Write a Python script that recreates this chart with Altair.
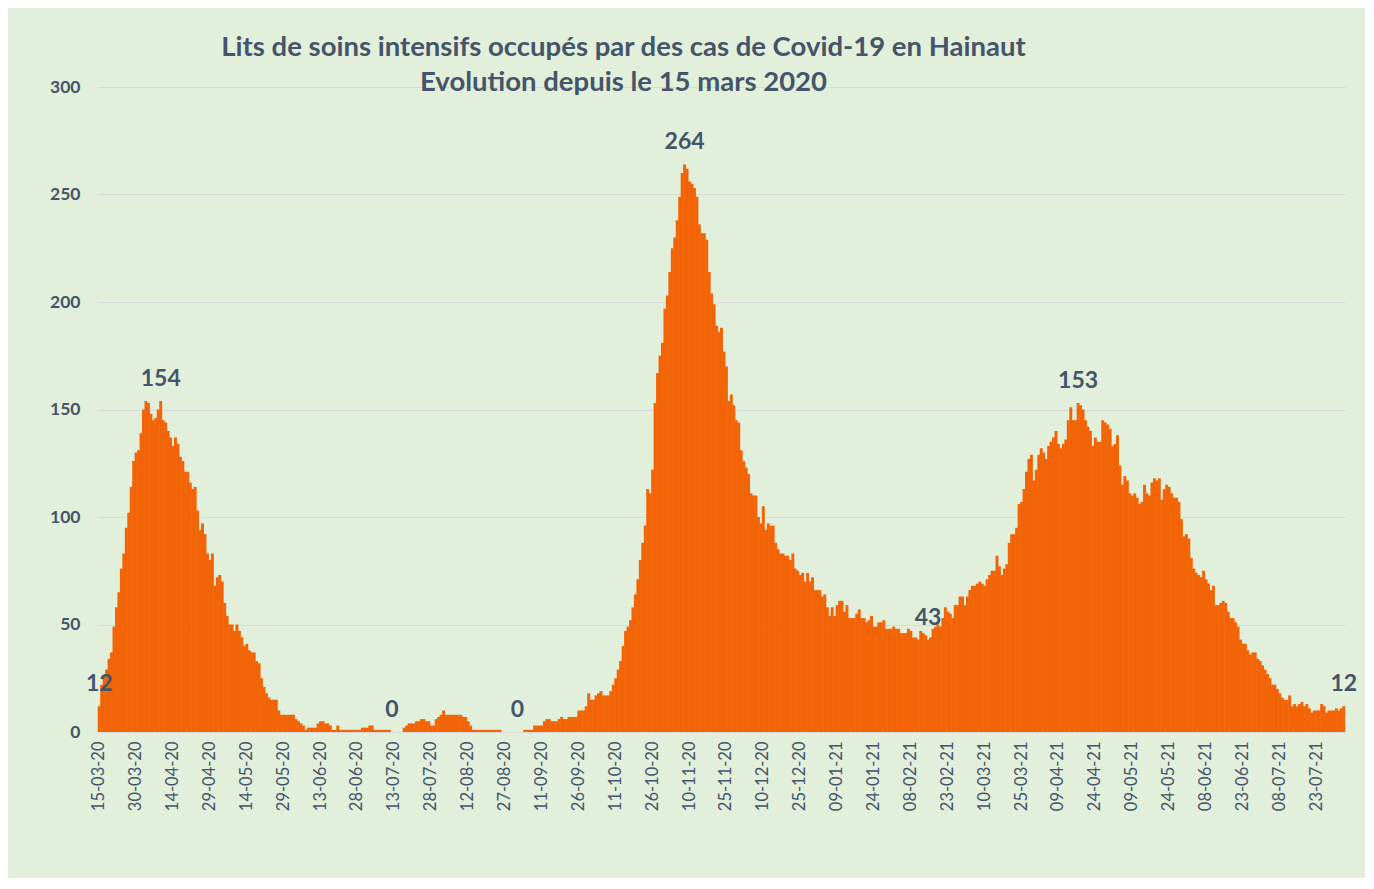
import altair as alt
import pandas as pd

START = "2020-03-15"

# Daily ICU occupancy (15-03-20 .. 03-08-21)
WAVE1 = [12, 22, 26, 29, 34, 37, 49, 58, 65, 76,
         83, 95, 102, 114, 126, 130, 131, 139, 150, 154,
         153, 148, 145, 146, 150, 154, 145, 144, 140, 137,
         133, 137, 134, 128, 126, 121, 121, 116, 113, 114,
         103, 94, 97, 92, 83, 80, 83, 68, 72, 73,
         70, 60, 54, 50, 50, 47, 50, 47, 44, 40,
         41, 38, 37, 37, 33, 32, 25, 21, 18, 16,
         15, 15, 15, 10, 8, 8, 8, 8, 8, 8]
SUMMER = [6, 5, 4, 3, 1, 2, 2, 2, 2, 4,
          5, 5, 4, 4, 3, 1, 1, 3, 1, 1,
          1, 1, 1, 1, 1, 1, 1, 2, 2, 2,
          3, 3, 1, 1, 1, 1, 1, 1, 1, 0,
          0, 0, 0, 0, 2, 3, 4, 4, 4, 5,
          5, 6, 6, 5, 5, 3, 3, 6, 7, 8,
          10, 8, 8, 8, 8, 8, 8, 8, 7, 7,
          5, 3, 1, 1, 1, 1, 1, 1, 1, 1,
          1, 1, 1, 1, 0, 0, 0, 0, 0, 0,
          0, 0, 0, 1, 1, 1, 1, 3, 3, 3,
          3, 5, 6, 6, 5, 5, 5, 6, 7, 6,
          6, 7, 7, 7, 7, 10, 10, 10, 12, 18]
WAVE2 = [15, 15, 17, 18, 19, 17, 17, 17, 19, 22,
         25, 29, 33, 40, 47, 49, 52, 58, 64, 71,
         80, 88, 96, 113, 111, 122, 153, 167, 175, 181,
         197, 203, 214, 225, 230, 238, 249, 260, 264, 262,
         256, 255, 253, 249, 236, 232, 232, 229, 214, 204,
         199, 189, 186, 188, 177, 170, 154, 157, 152, 145,
         144, 131, 126, 123, 120, 111, 110, 110, 100, 97,
         105, 94, 97, 96, 96, 88, 85, 83, 83, 82,
         82, 80, 83, 76, 75, 73, 74, 70, 74, 70,
         72, 66, 66, 66, 63, 64, 58, 54, 58, 54]
WINTER = [59, 61, 61, 56, 59, 53, 53, 53, 55, 57,
          53, 53, 51, 52, 54, 49, 49, 51, 51, 52,
          48, 48, 48, 49, 48, 48, 46, 46, 46, 48,
          47, 44, 44, 43, 47, 46, 45, 43, 44, 48,
          49, 50, 49, 53, 58, 56, 55, 53, 59, 59,
          63, 63, 59, 63, 66, 68, 68, 69, 70, 69]
WAVE3 = [68, 71, 73, 75, 75, 82, 77, 73, 76, 78,
         88, 92, 92, 95, 106, 107, 113, 121, 127, 129,
         117, 122, 129, 132, 130, 127, 133, 135, 137, 140,
         134, 132, 134, 136, 145, 151, 145, 145, 153, 152,
         150, 145, 142, 140, 133, 137, 135, 135, 145, 144,
         143, 141, 133, 134, 138, 124, 115, 119, 117, 111,
         110, 111, 109, 106, 107, 115, 111, 110, 116, 118,
         117, 118, 108, 113, 115, 114, 111, 109, 109, 107,
         99, 91, 92, 90, 81, 76, 74, 73, 72, 75,
         71, 69, 66, 68, 59, 59, 60, 61, 60, 56,
         53, 53, 51, 49, 43, 41, 41, 38, 36, 37,
         37, 34, 33, 31, 29, 27, 25, 22, 22, 20,
         18, 16, 15, 15, 17, 12, 13, 12, 13, 14,
         12, 13, 11, 9, 10, 10, 10, 13, 12, 9,
         10, 10, 10, 11, 10, 11, 12]

VALUES = WAVE1 + SUMMER + WAVE2 + WINTER + WAVE3

TICK_LABELS = ["15-03-20", "30-03-20", "14-04-20", "29-04-20", "14-05-20", "29-05-20",
               "13-06-20", "28-06-20", "13-07-20", "28-07-20", "12-08-20", "27-08-20",
               "11-09-20", "26-09-20", "11-10-20", "26-10-20", "10-11-20", "25-11-20",
               "10-12-20", "25-12-20", "09-01-21", "24-01-21", "08-02-21", "23-02-21",
               "10-03-21", "25-03-21", "09-04-21", "24-04-21", "09-05-21", "24-05-21",
               "08-06-21", "23-06-21", "08-07-21", "23-07-21"]
Y_TICKS = [0, 50, 100, 150, 200, 250, 300]
LABEL_DATES = ["15-03-20", "09-04-20", "12-07-20", "01-09-20", "08-11-20",
               "15-02-21", "17-04-21", "03-08-21"]

TITLE = ["Lits de soins intensifs occupés par des cas de Covid-19 en Hainaut",
         "Evolution depuis le 15 mars 2020"]

dates = pd.date_range(START, periods=len(VALUES), freq="D").strftime("%d-%m-%y").tolist()
df = pd.DataFrame({"date": dates, "value": VALUES})
labels = df[df["date"].isin(LABEL_DATES)]

TEXT = "#44546A"
ORANGE = "#F26406"
BG = "#E2EFDA"
GRID = "#D9D9D9"
FONT = "Lato"

x = alt.X("date:O",
          scale=alt.Scale(domain=dates, paddingInner=0, paddingOuter=0),
          axis=alt.Axis(values=TICK_LABELS, labelAngle=-90, labelFont=FONT,
                        labelFontSize=16.5, labelColor=TEXT, labelPadding=9,
                        labelOverlap=False, ticks=False, domainColor=GRID,
                        domainWidth=1, grid=False),
          title=None)
y = alt.Y("value:Q",
          scale=alt.Scale(domain=[0, 300], nice=False),
          axis=alt.Axis(values=Y_TICKS, labelFont=FONT, labelFontSize=17.5,
                        labelFontWeight="bold", labelColor=TEXT, labelPadding=18,
                        ticks=False, domain=False, gridColor=GRID, gridWidth=1),
          title=None)

bars = alt.Chart(df).mark_bar(color=ORANGE, width=alt.RelativeBandSize(1.2)).encode(x=x, y=y)

text = alt.Chart(labels).mark_text(dy=-22, font=FONT, fontSize=23, fontWeight="bold",
                                   color=TEXT).encode(x=x, y=y, text="value:Q")

chart = (bars + text).properties(
    width=1247, height=645,
    padding={"left": 90, "top": 79, "right": 20, "bottom": 146},
    autosize=alt.AutoSizeParams(type="none"),
    background=BG,
    title=alt.TitleParams(text=TITLE, font=FONT, fontSize=27.5, fontWeight="bold",
                          color=TEXT, anchor="middle", dx=-98, dy=18, offset=0,
                          lineHeight=35),
).configure_view(strokeWidth=0)

chart.save("out.html", embed_options={"renderer": "svg", "actions": False})
